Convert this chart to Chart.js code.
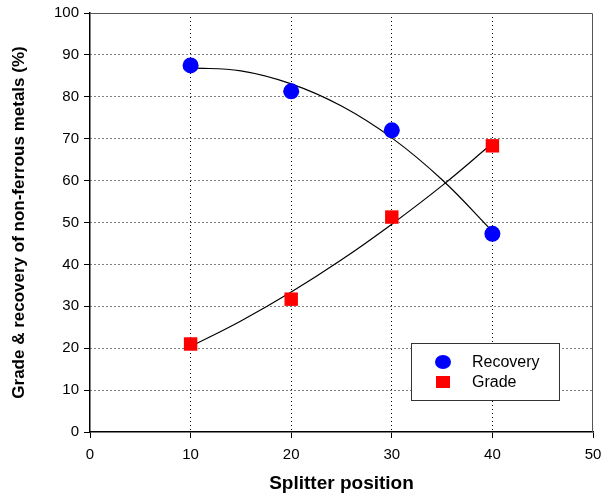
<!DOCTYPE html>
<html>
<head>
<meta charset="utf-8">
<script src="https://cdn.jsdelivr.net/npm/chart.js@4/dist/chart.umd.min.js"></script>
<style>
html, body { margin: 0; padding: 0; background: #fff; }
</style>
</head>
<body>
<canvas id="chart" width="606" height="498"></canvas>
<script>
// measured points
const positions = [10, 20, 30, 40];
const recovery = [87.5, 81.3, 72.0, 47.3];
const grade = [21.0, 31.7, 51.3, 68.3];

// trend curves
const trendPositions = [10, 15, 20, 25, 30, 35, 40];
const recoveryTrend = [86.9, 86.2, 83.1, 77.8, 70.2, 60.2, 47.9];
const gradeTrend = [20.4, 26.5, 33.4, 41.1, 49.6, 58.8, 68.9];

const xMax = 50;
const yMax = 100;

const toXY = (xs, ys) => xs.map((x, i) => ({ x: x, y: ys[i] }));

// grey top/right frame + boxed legend inside the plot
const framePlugin = {
    id: 'frame',
    afterDraw(chart) {
        const ctx = chart.ctx;
        const a = chart.chartArea;
        ctx.save();
        ctx.strokeStyle = '#555';
        ctx.lineWidth = 1;
        ctx.beginPath();
        ctx.moveTo(a.left, a.top + 0.5);
        ctx.lineTo(a.right - 0.5, a.top + 0.5);
        ctx.lineTo(a.right - 0.5, a.bottom);
        ctx.stroke();

        // legend
        const bx = 411, by = 343, bw = 148, bh = 57;
        ctx.fillStyle = '#fff';
        ctx.fillRect(bx, by, bw, bh);
        ctx.strokeStyle = '#333';
        ctx.strokeRect(bx + 0.5, by + 0.5, bw, bh);

        const items = chart.data.datasets.filter(d => d.inLegend);
        ctx.font = '16px "Liberation Sans", Arial, sans-serif';
        ctx.textBaseline = 'middle';
        items.forEach((d, i) => {
            const cy = by + 19 + i * 20;
            const cx = bx + 32;
            ctx.fillStyle = d.backgroundColor;
            if (d.pointStyle === 'rect') {
                ctx.fillRect(cx - 7, cy - 6, 14, 12);
            } else {
                ctx.beginPath();
                ctx.ellipse(cx, cy, 8, 7, 0, 0, Math.PI * 2);
                ctx.fill();
            }
            ctx.fillStyle = '#000';
            ctx.fillText(d.label, bx + 61, cy + 1);
        });
        ctx.restore();
    }
};

const hideEdges = (lo, hi) => c => (c.tick && (c.tick.value === lo || c.tick.value === hi)) ? 'rgba(0,0,0,0)' : '#000';

new Chart(document.getElementById('chart'), {
    type: 'scatter',
    data: {
        datasets: [
            {
                type: 'line',
                label: 'Recovery trend',
                data: toXY(trendPositions, recoveryTrend),
                borderColor: '#000',
                borderWidth: 1.2,
                pointRadius: 0,
                tension: 0.4,
                fill: false,
                order: 3
            },
            {
                type: 'line',
                label: 'Grade trend',
                data: toXY(trendPositions, gradeTrend),
                borderColor: '#000',
                borderWidth: 1.2,
                pointRadius: 0,
                tension: 0.4,
                fill: false,
                order: 3
            },
            {
                label: 'Recovery',
                inLegend: true,
                data: toXY(positions, recovery),
                pointStyle: 'circle',
                pointRadius: 8,
                backgroundColor: '#0000ff',
                borderColor: '#0000ff',
                borderWidth: 0,
                order: 1
            },
            {
                label: 'Grade',
                inLegend: true,
                data: toXY(positions, grade),
                pointStyle: 'rect',
                pointRadius: 9.5,
                backgroundColor: '#ff0000',
                borderColor: '#ff0000',
                borderWidth: 0,
                order: 1
            }
        ]
    },
    options: {
        responsive: false,
        animation: false,
        layout: { padding: { top: 13, right: 13, left: 0, bottom: 0 } },
        plugins: {
            legend: { display: false },
            tooltip: { enabled: false }
        },
        scales: {
            x: {
                type: 'linear',
                min: 0,
                max: xMax,
                afterFit: s => { s.height = 66; s.paddingRight = 0; s.paddingLeft = 0; },
                ticks: {
                    stepSize: 10,
                    color: '#000',
                    padding: 8,
                    maxRotation: 0,
                    font: { family: '"Liberation Sans", Arial, sans-serif', size: 15 }
                },
                grid: {
                    color: hideEdges(0, xMax),
                    lineWidth: 1,
                    tickColor: '#000',
                    tickLength: 6
                },
                border: { color: '#000', width: 1.5, dash: [1, 3] },
                title: {
                    display: true,
                    text: 'Splitter position',
                    color: '#000',
                    padding: 3,
                    font: { family: '"Liberation Sans", Arial, sans-serif', size: 19, weight: 'bold' }
                }
            },
            y: {
                min: 0,
                max: yMax,
                afterFit: s => { s.width = 90; s.paddingTop = 0; s.paddingBottom = 0; },
                ticks: {
                    stepSize: 10,
                    color: '#000',
                    padding: 5,
                    font: { family: '"Liberation Sans", Arial, sans-serif', size: 15 }
                },
                grid: {
                    color: hideEdges(0, yMax),
                    lineWidth: 1,
                    tickColor: '#000',
                    tickLength: 6
                },
                border: { color: '#000', width: 1.5, dash: [1, 3] },
                title: {
                    display: true,
                    text: 'Grade & recovery of non-ferrous metals (%)',
                    color: '#000',
                    padding: 9,
                    font: { family: '"Liberation Sans", Arial, sans-serif', size: 17, weight: 'bold' }
                }
            }
        }
    },
    plugins: [framePlugin]
});
</script>
</body>
</html>
